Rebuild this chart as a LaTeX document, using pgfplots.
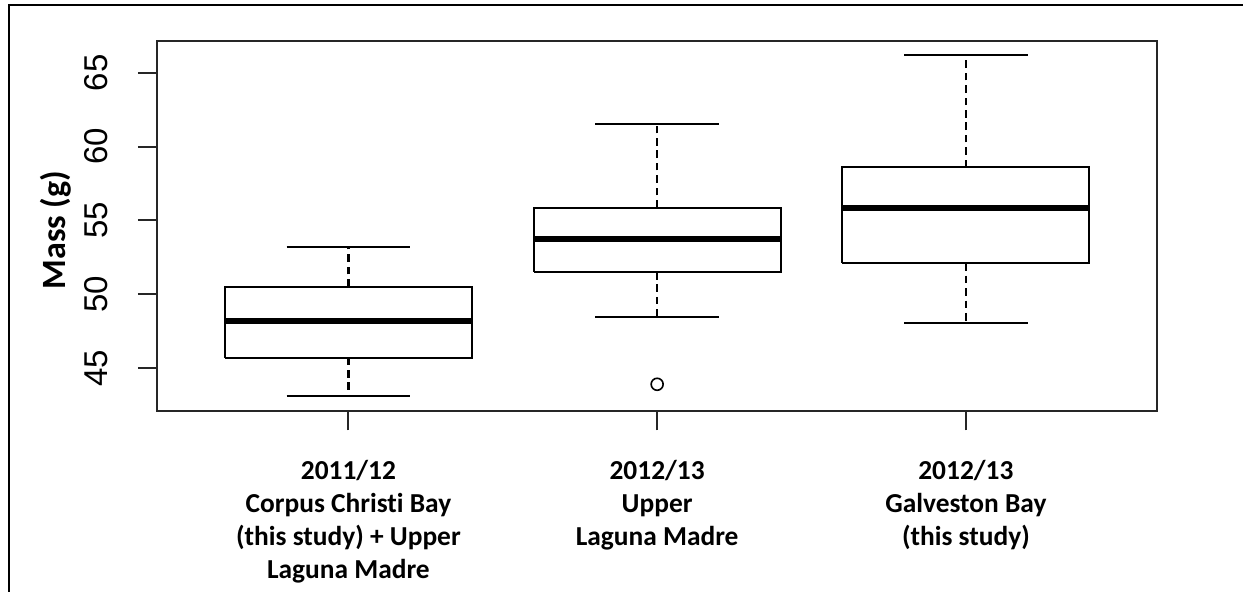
\documentclass[border=0pt]{standalone}
\usepackage{fontspec}
\setmainfont{Carlito}[Ligatures=NoCommon]
\newfontfamily\lsans{Liberation Sans}
\usepackage{pgfplots}
\pgfplotsset{compat=1.18}
\begin{document}
\begin{tikzpicture}[x=1pt,y=1pt]
\useasboundingbox (0,0) rectangle (621.5,296);
\draw[line width=1pt] (4.5,0) -- (4.5,293.35) -- (621.5,293.35);
\begin{axis}[
  at={(78.5pt,90.35pt)}, anchor=south west,
  scale only axis, width=500.15pt, height=185.3pt,
  xmin=0.38, xmax=3.62, ymin=42.07, ymax=67.17,
  axis line style={line width=1pt, black!85},
  tick style={line width=1pt, black!85},
  tick align=outside, tick pos=left, major tick length=9.5pt,
  xtick={1,2,3}, ytick={45,50,55,60,65},
  /pgf/number format/assume math mode=true,
  yticklabel style={font=\lsans\fontsize{16.5}{19}\selectfont, xshift=-15pt, rotate=90, anchor=base},
  xticklabels={{2011/12\\Corpus Christi Bay\\(this study) + Upper\\Laguna Madre},
               {2012/13\\Upper\\Laguna Madre},
               {2012/13\\Galveston Bay\\(this study)}},
  xticklabel style={align=center, font=\bfseries\fontsize{13.7}{16.5}\selectfont, anchor=north, inner sep=0pt, yshift=-15pt},
  ylabel={Mass (g)},
  every axis y label/.style={at={(axis description cs:-0.101,0.489)}, rotate=90, anchor=center, font=\bfseries\fontsize{17}{20}\selectfont},
  box/.style={black, line width=1pt, no marks},
  med/.style={black, line width=2.8pt, no marks},
  wh/.style={black, line width=1.15pt, no marks, dash pattern=on 3.8pt off 2.4pt},
  cap/.style={black, line width=1pt, no marks},
]
% group 1: lw 43.08, q1 45.70, med 48.20, q3 50.51, uw 53.18
\addplot[box] coordinates {(0.6,45.70) (1.4,45.70) (1.4,50.51) (0.6,50.51) (0.6,45.70)};
\addplot[med] coordinates {(0.6,48.20) (1.4,48.20)};
\addplot[wh] coordinates {(1,45.70) (1,43.08)};
\addplot[wh] coordinates {(1,50.51) (1,53.18)};
\addplot[cap] coordinates {(0.8,43.08) (1.2,43.08)};
\addplot[cap] coordinates {(0.8,53.18) (1.2,53.18)};
% group 2: lw 48.43, q1 51.50, med 53.74, q3 55.86, uw 61.51
\addplot[box] coordinates {(1.6,51.50) (2.4,51.50) (2.4,55.86) (1.6,55.86) (1.6,51.50)};
\addplot[med] coordinates {(1.6,53.74) (2.4,53.74)};
\addplot[wh] coordinates {(2,51.50) (2,48.43)};
\addplot[wh] coordinates {(2,55.86) (2,61.51)};
\addplot[cap] coordinates {(1.8,48.43) (2.2,48.43)};
\addplot[cap] coordinates {(1.8,61.51) (2.2,61.51)};
% group 3: lw 48.03, q1 52.09, med 55.82, q3 58.60, uw 66.20
\addplot[box] coordinates {(2.6,52.09) (3.4,52.09) (3.4,58.60) (2.6,58.60) (2.6,52.09)};
\addplot[med] coordinates {(2.6,55.82) (3.4,55.82)};
\addplot[wh] coordinates {(3,52.09) (3,48.03)};
\addplot[wh] coordinates {(3,58.60) (3,66.20)};
\addplot[cap] coordinates {(2.8,48.03) (3.2,48.03)};
\addplot[cap] coordinates {(2.8,66.20) (3.2,66.20)};
% outlier
\addplot[only marks, mark=o, mark size=3pt, line width=0.8pt, black] coordinates {(2,43.9)};
\end{axis}
\end{tikzpicture}
\end{document}
